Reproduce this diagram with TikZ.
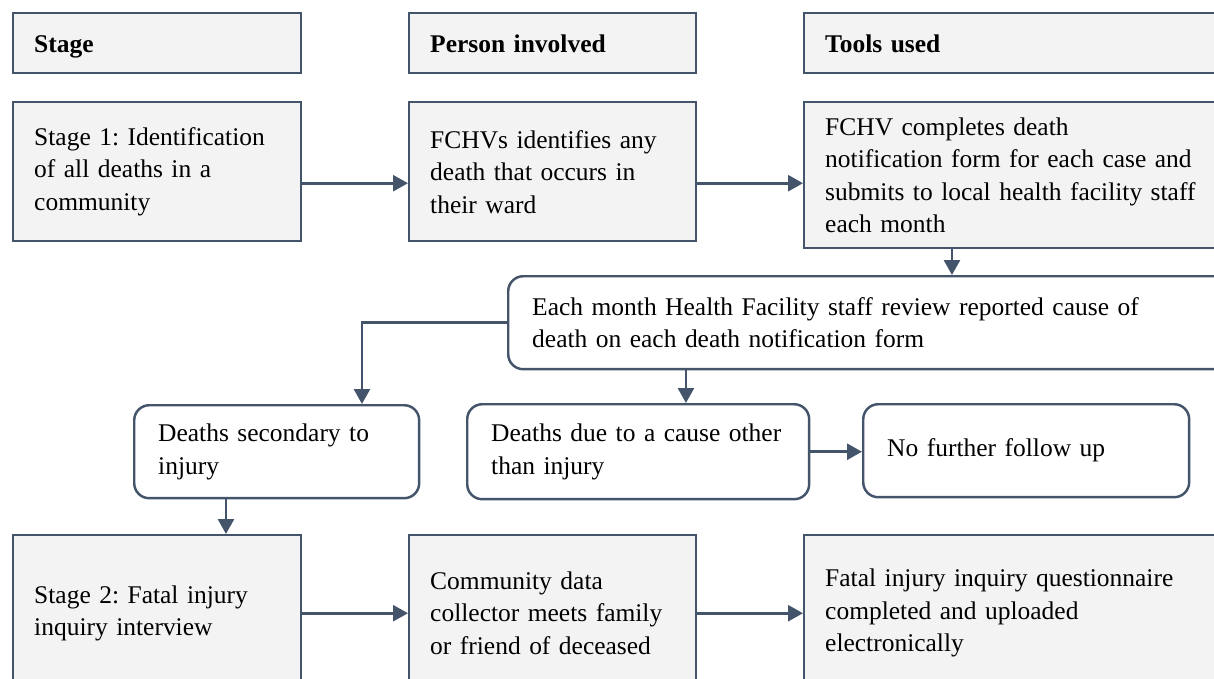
\documentclass[tikz,border=0pt]{standalone}
\usepackage{fontspec}
\setmainfont{Liberation Serif}
\usetikzlibrary{arrows.meta}
\definecolor{edge}{RGB}{68,84,106}
\definecolor{boxfill}{RGB}{243,243,243}
\frenchspacing

\begin{document}
\begin{tikzpicture}[x=0.02cm,y=-0.02cm,
  box/.style={draw=edge,line width=1.4pt,fill=boxfill,anchor=north west,align=left,
    inner xsep=0.42cm,inner ysep=0pt,font=\fontsize{14.5}{18.5}\selectfont},
  headbox/.style={box,text height=11.5pt,text depth=1.5pt,minimum height=1.2cm},
  rbox/.style={box,fill=white,rounded corners=0.3cm,inner xsep=0.48cm},
  arr/.style={draw=edge,line width=1.5pt,-{Triangle[length=0.3cm,width=0.32cm]}}]
\clip (0,0) rectangle (1214,679);
% headings
\node[headbox,text width=4.92cm] (hstage) at (12,12) {\textbf{Stage}};
\node[headbox,text width=4.9cm] (hperson) at (408,12) {\textbf{Person involved}};
\node[headbox,text width=7.6cm] (htools) at (803,12) {\textbf{Tools used}};
% stage 1
\node[box,text width=4.92cm,minimum height=2.78cm] (stage1) at (12,101)
  {Stage 1: Identification\\of all deaths in a\\community};
\node[box,text width=4.9cm,minimum height=2.78cm] (person1) at (408,101)
  {FCHVs identifies any\\death that occurs in\\their ward};
\node[box,text width=7.6cm,minimum height=2.92cm] (tools1) at (803,101)
  {FCHV completes death\\notification form for each case and\\submits to local health facility staff\\each month};
% review and outcome
\node[rbox,text width=13.5cm,minimum height=1.86cm] (review) at (507,275)
  {Each month Health Facility staff review reported cause of\\death on each death notification form};
\node[rbox,text width=4.74cm,minimum height=1.86cm] (injury) at (133,404)
  {Deaths secondary to\\injury};
\node[rbox,text width=5.88cm,minimum height=1.9cm] (other) at (466,403)
  {Deaths due to a cause other\\than injury};
\node[rbox,text width=5.56cm,minimum height=1.86cm] (nofollow) at (862,403)
  {No further follow up};
% stage 2
\node[box,text width=4.92cm,minimum height=3.12cm] (stage2) at (12,534)
  {Stage 2: Fatal injury\\inquiry interview};
\node[box,text width=4.9cm,minimum height=3.12cm] (person2) at (408,534)
  {Community data\\collector meets family\\or friend of deceased};
\node[box,text width=7.6cm,minimum height=3.12cm] (tools2) at (803,534)
  {Fatal injury inquiry questionnaire\\completed and uploaded\\electronically};
% connectors
\coordinate (c1) at ([xshift=2.98cm]tools1.south west);
\coordinate (c2) at ([xshift=4.58cm]injury.north west);
\coordinate (c3) at ([xshift=4.4cm]other.north west);
\coordinate (c4) at ([xshift=1.86cm]injury.south west);
\draw[arr] ([yshift=-0.23cm]stage1.east) -- ([yshift=-0.23cm]person1.west);
\draw[arr] ([yshift=-0.23cm]person1.east) -- ([yshift=-0.23cm]tools1.west |- person1.east);
\draw[arr] (c1) -- (c1 |- review.north);
\draw[arr] (review.west) -| (c2);
\draw[arr] (c3 |- review.south) -- (c3);
\draw[arr] (other.east) -- (nofollow.west |- other.east);
\draw[arr] (c4) -- (c4 |- stage2.north);
\draw[arr] (stage2.east) -- (person2.west);
\draw[arr] (person2.east) -- (tools2.west |- person2.east);
\end{tikzpicture}
\end{document}
